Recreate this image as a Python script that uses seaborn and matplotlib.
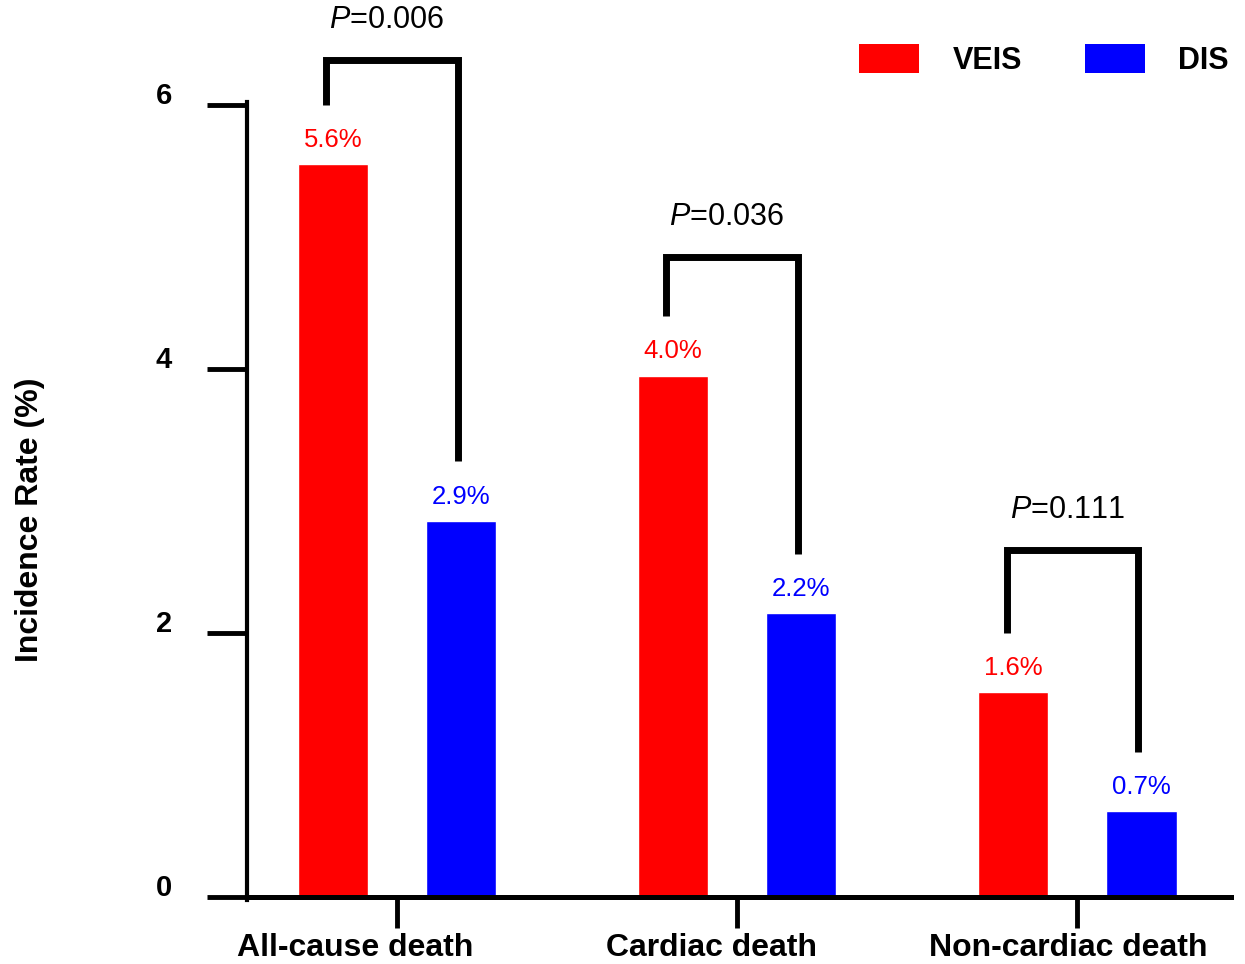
#Grouped bar chart: incidence rate of death, VEIS vs DIS

import numpy as np
import pandas as pd
import seaborn as sns
import matplotlib.pyplot as plt
from matplotlib.patches import Patch
from matplotlib.transforms import ScaledTranslation

# Data
categories = ['All-cause death', 'Cardiac death', 'Non-cardiac death']
groups = ['VEIS', 'DIS']
veis = [5.55, 3.95, 1.55]
dis = [2.85, 2.15, 0.65]
veis_labels = ['5.6%', '4.0%', '1.6%']
dis_labels = ['2.9%', '2.2%', '0.7%']
p_values = ['0.006', '0.036', '0.111']
bracket_tops = [6.34, 4.85, 2.63]
y_ticks = [0, 2, 4, 6]

colors = {'VEIS': '#ff0000', 'DIS': '#0000ff'}

df = pd.DataFrame({
    'category': categories * 2,
    'group': ['VEIS'] * len(categories) + ['DIS'] * len(categories),
    'rate': veis + dis,
})

sns.set_style('ticks')
plt.rcParams['font.family'] = ['Liberation Sans', 'DejaVu Sans']
plt.rcParams['mathtext.fontset'] = 'custom'
plt.rcParams['mathtext.rm'] = 'Liberation Sans'
plt.rcParams['mathtext.it'] = 'Liberation Sans:italic'
for key in ['text.color', 'axes.labelcolor', 'axes.edgecolor', 'xtick.color', 'ytick.color']:
    plt.rcParams[key] = 'black'

fig = plt.figure(figsize=(12.45, 9.64), dpi=100)
ax = fig.add_axes([0.1984, 0.0695, 0.7900, 0.8216])

width, gap = 0.753, 0.453
sns.barplot(data=df, x='category', y='rate', hue='group', hue_order=groups,
            palette=colors, width=width, gap=gap, errorbar=None,
            saturation=1, legend=False, ax=ax)

ax.set_xlim(-0.441, 2.45)
ax.set_ylim(0, 6)
ax.set_yticks(y_ticks)
ax.set_xlabel('')
ax.set_ylabel('Incidence Rate (%)', fontsize=23, fontweight='bold')
ax.yaxis.set_label_coords(-0.205, 0.476)

sns.despine(ax=ax)
ax.spines['left'].set_linewidth(3)
ax.spines['bottom'].set_linewidth(3.6)
ax.spines['left'].set_bounds(-0.025, 6.02)

ax.tick_params(axis='y', length=29, width=3.5, pad=25, labelsize=21)
ax.tick_params(axis='x', length=22, width=3.5, pad=4, labelsize=23)
for lab in ax.get_yticklabels() + ax.get_xticklabels():
    lab.set_fontweight('bold')

# nudge tick labels like in the original
for lab in ax.get_yticklabels():
    lab.set_transform(lab.get_transform() + ScaledTranslation(0, 0.12, fig.dpi_scale_trans))
for lab, dx in zip(ax.get_xticklabels(), [-42, -26, -9]):
    lab.set_transform(lab.get_transform() + ScaledTranslation(dx / 100, 0, fig.dpi_scale_trans))

# value labels and P brackets
offset = width / 4
leg_gap = 0.45
for i in range(len(categories)):
    x1, x2 = i - offset, i + offset
    ax.text(x1, veis[i] + 0.13, veis_labels[i], ha='center', va='baseline',
            color=colors['VEIS'], fontsize=18.5)
    ax.text(x2, dis[i] + 0.13, dis_labels[i], ha='center', va='baseline',
            color=colors['DIS'], fontsize=18.5)
    top = bracket_tops[i]
    ax.plot([x1 - 0.02, x1 - 0.02, x2 - 0.01, x2 - 0.01],
            [veis[i] + leg_gap, top, top, dis[i] + leg_gap],
            color='black', lw=5, clip_on=False,
            solid_joinstyle='miter', solid_capstyle='butt')
    ax.text((x1 + x2) / 2 - 0.03, top + 0.24, r'$\it{P}$=' + p_values[i],
            ha='center', va='baseline', fontsize=22, clip_on=False)

handles = [Patch(facecolor=colors[g], edgecolor='none', label=g) for g in groups]
leg = fig.legend(handles=handles, loc='center left', bbox_to_anchor=(0.690, 0.938),
                 ncol=2, frameon=False, borderaxespad=0, borderpad=0,
                 handlelength=1.96, handleheight=1.08, handletextpad=1.1,
                 columnspacing=2.06, prop={'size': 22, 'weight': 'bold'})

fig.savefig('out.png', dpi=100)
